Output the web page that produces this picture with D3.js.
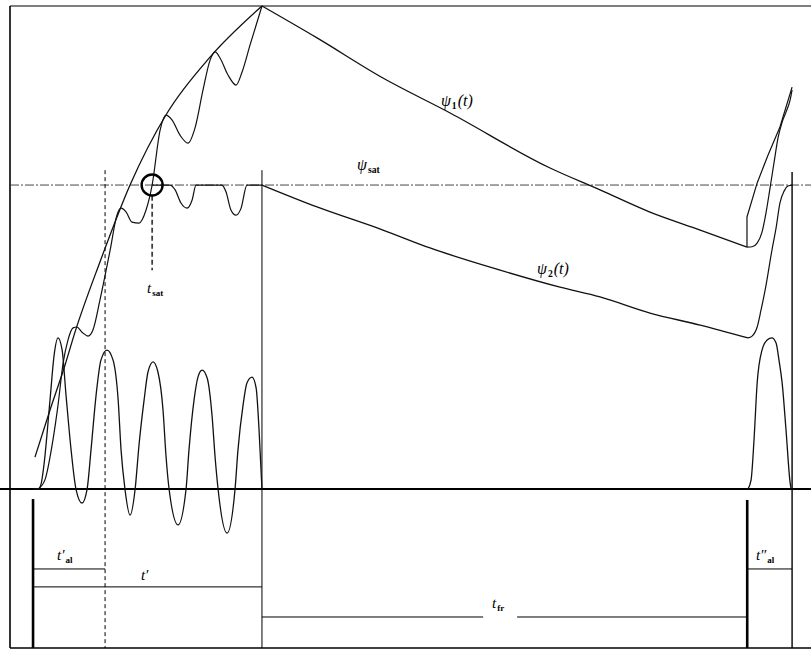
<!DOCTYPE html>
<html><head><meta charset="utf-8">
<script src="https://cdn.jsdelivr.net/npm/d3@7"></script>
<style>body{margin:0;background:#fff}svg{display:block}</style>
</head><body><svg id="c" width="811" height="650"></svg>
<script>
// ---- data: time t (ms), flux / current in units of psi_sat ----
const psi1EnvelopeRise = [[0.8,0.105],[7.0,0.260],[13.2,0.408],[17.3,0.516],[27.6,0.747],[40.0,1.0],[55.3,1.237],[73.0,1.421],[94.4,1.589]];
const psi1EnvelopeDecay = [[94.4,1.589],[117.1,1.484],[144.3,1.352],[172.0,1.237],[213.2,1.056],[233.8,0.984],[254.4,0.911],[275.1,0.852],[294.4,0.796]];
const psi1EnvelopeReclose = [[294.4,0.796],[294.4,0.895],[298.6,1.007],[303.1,1.099],[308.0,1.191],[313.0,1.322]];
const psi1Transient = [[2.1,0],[4.9,0.030],[8.2,0.161],[10.3,0.276],[12.4,0.414],[14.4,0.490],[16.5,0.530],[18.1,0.533],[20.2,0.516],[22.7,0.503],[24.7,0.523],[27.6,0.622],[31.8,0.786],[34.6,0.901],[36.3,0.924],[38.4,0.911],[40.8,0.878],[43.7,0.875],[46.6,0.918],[49.1,1.0],[52.4,1.181],[54.8,1.230],[57.3,1.214],[60.6,1.164],[63.9,1.138],[66.8,1.188],[70.1,1.313],[73.0,1.411],[75.1,1.438],[77.1,1.418],[80.4,1.362],[83.7,1.329],[86.2,1.372],[89.5,1.461],[94.4,1.589]];
const psi1Reclose = [[294.4,0.796],[296.5,0.797],[298.6,0.809],[300.6,0.845],[302.3,0.911],[303.9,0.990],[305.6,1.076],[307.2,1.155],[308.9,1.207],[310.5,1.240],[312.2,1.280],[313.0,1.313]];
const psi2Saturated = [[49.1,1.0],[56.5,1.0],[58.6,0.984],[61.0,0.941],[63.5,0.924],[65.6,0.951],[67.2,1.0],[77.9,1.0],[79.6,0.977],[81.6,0.918],[83.7,0.901],[85.8,0.924],[88.2,1.0],[94.4,1.0]];
const psi2Decay = [[94.4,1.0],[117.1,0.928],[144.3,0.852],[163.7,0.793],[192.6,0.720],[217.3,0.664],[233.8,0.632],[254.4,0.579],[275.1,0.539],[294.8,0.497]];
const psi2Reclose = [[294.8,0.497],[296.5,0.503],[298.6,0.533],[300.2,0.589],[301.9,0.655],[304.7,0.786],[306.4,0.859],[308.0,0.941],[309.7,0.980],[311.3,0.997],[313.0,1.0]];
const currentFirst = [[0,0],[2.1,0],[3.3,0.016],[4.5,0.079],[7.0,0.293],[8.7,0.441],[10.3,0.497],[12.0,0.457],[13.6,0.309],[15.7,0.128],[17.7,0],[20.2,-0.046],[22.3,0],[23.9,0.128],[26.0,0.309],[28.0,0.424],[30.5,0.457],[33.0,0.424],[35.1,0.293],[36.3,0.128],[37.9,0],[40.0,-0.086],[42.1,0],[43.7,0.145],[45.8,0.293],[47.4,0.385],[49.5,0.418],[51.5,0.385],[53.6,0.260],[54.8,0.112],[56.1,0],[59.8,-0.118],[63.1,0],[64.3,0.128],[66.4,0.293],[68.0,0.368],[69.7,0.391],[71.8,0.365],[73.8,0.243],[75.1,0.102],[76.3,0],[80.0,-0.145],[83.3,0],[84.5,0.128],[86.6,0.276],[88.2,0.349],[90.3,0.368],[92.0,0.332],[93.2,0.194],[94.4,0]];
const currentReclose = [[294.8,0],[296.1,0.030],[297.3,0.161],[298.6,0.349],[300.6,0.457],[302.7,0.490],[304.7,0.497],[306.4,0.480],[307.6,0.424],[308.9,0.349],[310.5,0.194],[312.2,0.020],[312.6,0]];
// event instants (ms)
const eventNames = ["start","tAlEnd","tSat","open","reclose","end"];
const eventTimes = [0, 29.7, 49.1, 94.4, 294.5, 313.0];
const psiSat = 1.0;
const labelTexts = {psi1:["ψ","1","(t)"], psiSat:["ψ","sat",""], psi2:["ψ","2","(t)"], tSat:["t","sat",""], tAl1:["t′","al",""], tP:["t′","",""], tFr:["t","fr",""], tAl2:["t″","al",""]};

// ---- scales ----
const svg = d3.select("#c");
const x = d3.scaleLinear().domain([-9.5, 320.8]).range([10, 811]);
const y = d3.scaleLinear().domain([-0.523, 1.589]).range([648, 6]);
const ev = Object.fromEntries(eventNames.map((n,i)=>[n,eventTimes[i]]));

const smooth = d3.line().x(d=>x(d[0])).y(d=>y(d[1])).curve(d3.curveMonotoneX);
const straight = d3.line().x(d=>x(d[0])).y(d=>y(d[1]));

function seg(x1,y1,x2,y2,w,dash,col){
  svg.append("line").attr("x1",x1).attr("y1",y1).attr("x2",x2).attr("y2",y2)
    .attr("stroke",col||"#000").attr("stroke-width",w).attr("stroke-dasharray",dash||null);
}
const [X0,X1] = x.range(); const [Yb,Yt] = y.range();

// frame
seg(X0,Yt,X1,Yt,1.1);
seg(X0,Yt,X0,Yb,1.6);
seg(X0,Yb,X1,Yb,1.6);
// psi_sat dash-dot line
seg(X0,y(psiSat),X1,y(psiSat),0.9,"9,2,2,2","#333");
// zero axis
seg(0,y(0),X1,y(0),2.2);

// vertical markers
seg(x(ev.tAlEnd),y(1.049),x(ev.tAlEnd),Yb,1,"4,3");
seg(x(ev.open),y(1.049),x(ev.open),Yb,1);
seg(x(ev.end),y(1.043),x(ev.end),Yb,1.4);
seg(x(ev.start),y(-0.033),x(ev.start),Yb,2.6);
seg(x(ev.reclose),y(-0.036),x(ev.reclose),Yb,2.6);
seg(x(ev.tSat),y(0.965),x(ev.tSat),y(0.72),1.3,"5,3");

// interval brackets
seg(x(ev.start),y(-0.263),x(ev.tAlEnd),y(-0.263),1);
seg(x(ev.start),y(-0.322),x(ev.open),y(-0.322),1);
seg(x(ev.open),y(-0.421),x(185.6),y(-0.421),1);
seg(x(199.6),y(-0.421),x(ev.reclose),y(-0.421),1);
seg(x(ev.reclose),y(-0.263),x(ev.end),y(-0.263),1);

// curves
function curve(data,gen,w){
  svg.append("path").attr("d",gen(data)).attr("fill","none").attr("stroke","#111")
    .attr("stroke-width",w).attr("stroke-linejoin","round");
}
curve(psi1EnvelopeRise,smooth,1.3);
curve(psi1EnvelopeDecay,smooth,1.3);
curve(psi1EnvelopeReclose,straight,1.2);
curve(psi1Transient,smooth,1.2);
curve(psi1Reclose,smooth,1.2);
curve(psi2Saturated,smooth,1.2);
curve(psi2Decay,smooth,1.3);
curve(psi2Reclose,smooth,1.2);
curve(currentFirst,smooth,1.3);
curve(currentReclose,smooth,1.3);

// saturation circle
svg.append("circle").attr("cx",x(ev.tSat)).attr("cy",y(psiSat)).attr("r",10.5)
  .attr("fill","none").attr("stroke","#000").attr("stroke-width",2.4);

// labels
function label(key,t,v,big){
  const [a,s,b] = labelTexts[key];
  const tx = svg.append("text").attr("x",x(t)).attr("y",y(v))
    .attr("font-family","'Liberation Serif','Times New Roman',serif").attr("fill","#000");
  tx.append("tspan").attr("font-style","italic").attr("font-size",big).text(a);
  if(s) tx.append("tspan").attr("font-size",big*0.6).attr("font-weight","bold").attr("dx",1).attr("dy",3).text(s);
  if(b) tx.append("tspan").attr("font-style","italic").attr("font-size",big).attr("dx",1).attr("dy",s?-3:0).text(b);
}
label("psi1",168.2,1.260,16);
label("psiSat",133.6,1.049,16);
label("psi2",207.8,0.707,16);
label("tSat",47.0,0.645,15);
label("tAl1",9.9,-0.234,15);
label("tP",44.5,-0.299,15);
label("tFr",189.3,-0.391,15);
label("tAl2",298.1,-0.234,15);
</script></body></html>
